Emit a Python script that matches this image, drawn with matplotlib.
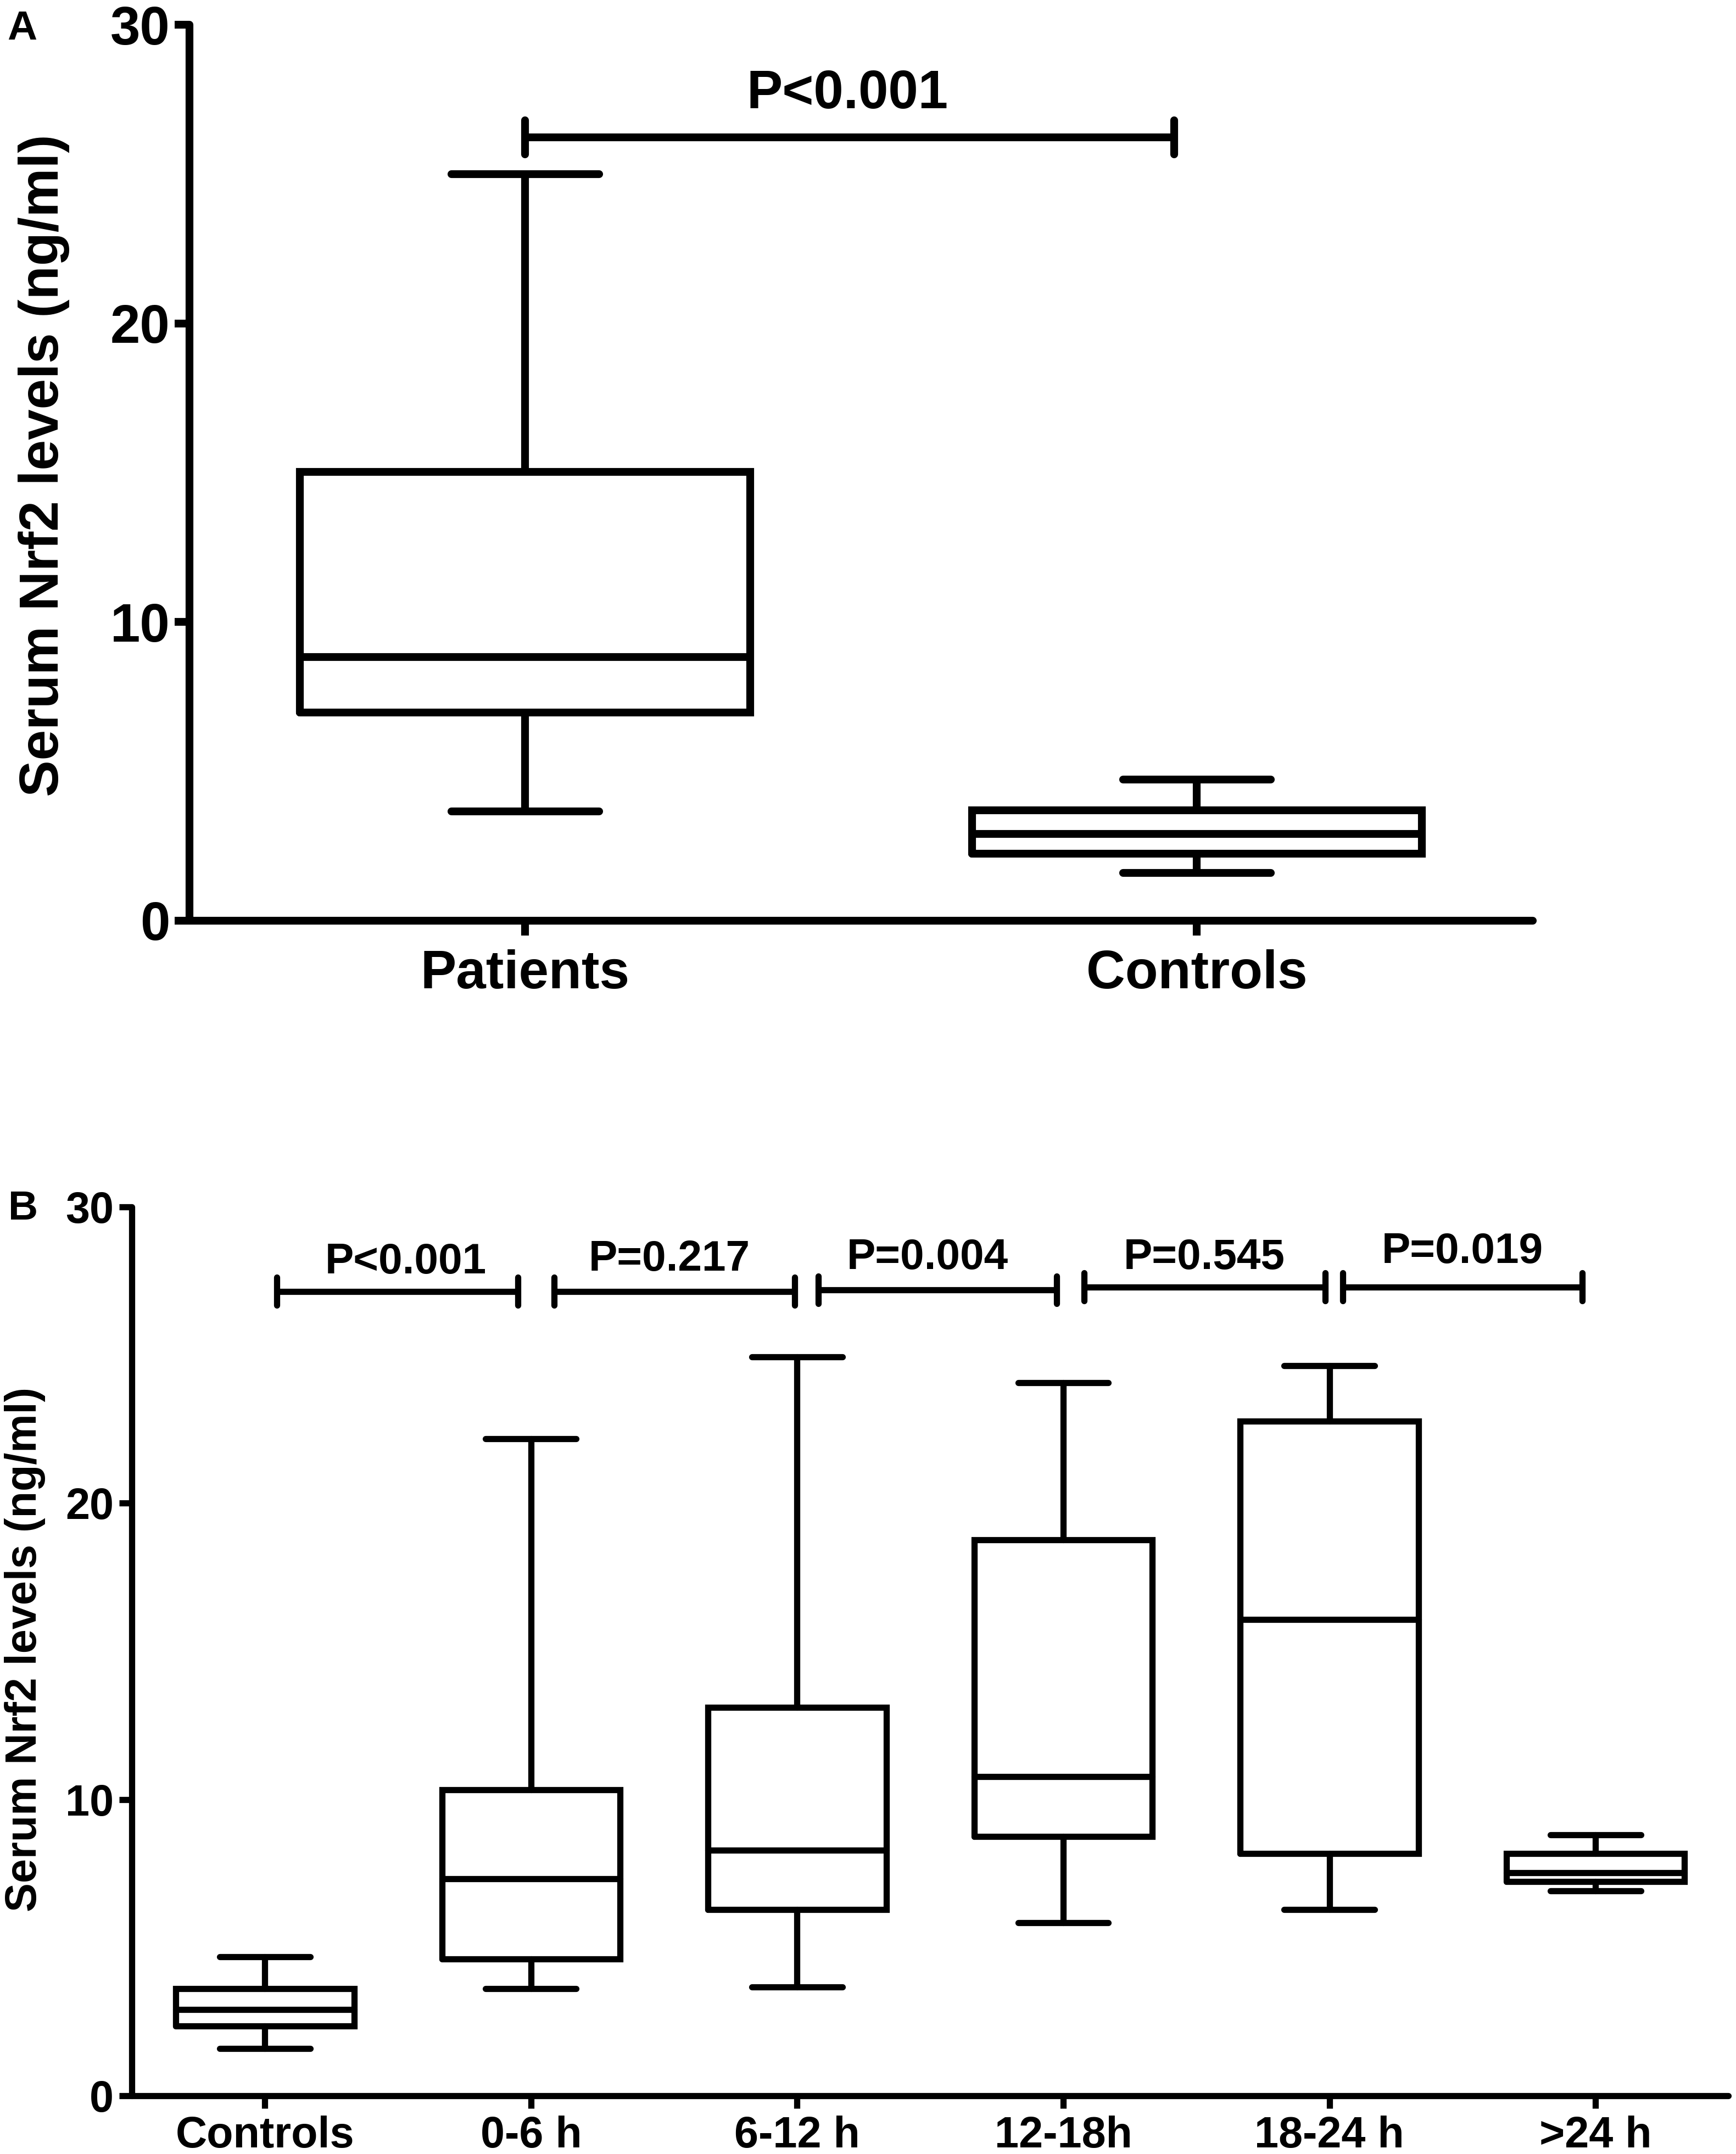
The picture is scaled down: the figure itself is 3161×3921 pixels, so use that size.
import matplotlib
matplotlib.use("Agg")
import matplotlib.pyplot as plt

plt.rcParams["font.family"] = ["Liberation Sans", "DejaVu Sans"]
plt.rcParams["font.weight"] = "bold"

# panel A: patients vs controls
groups_a = ["Patients", "Controls"]
a_whislo = [3.66, 1.59]
a_q1 = [6.97, 2.24]
a_med = [8.82, 2.90]
a_q3 = [15.02, 3.70]
a_whishi = [24.99, 4.72]

a_pvals = ["P<0.001"]
a_left = [1.0]
a_right = [1.966]
a_bracket_y = [26.23]
a_text_x = [1.48]
a_text_y = [27.2]

# panel B: controls and time since onset
groups_b = ["Controls", "0-6 h", "6-12 h", "12-18h", "18-24 h", ">24 h"]
b_whislo = [1.59, 3.61, 3.67, 5.85, 6.29, 6.92]
b_q1 = [2.35, 4.62, 6.29, 8.75, 8.18, 7.24]
b_med = [2.92, 7.32, 8.29, 10.78, 16.07, 7.53]
b_q3 = [3.61, 10.32, 13.11, 18.77, 22.76, 8.18]
b_whishi = [4.70, 22.17, 24.94, 24.06, 24.65, 8.81]

b_pvals = ["P<0.001", "P=0.217", "P=0.004", "P=0.545", "P=0.019"]
b_left = [1.045, 2.086, 3.08, 4.078, 5.05]
b_right = [1.95, 2.99, 3.975, 4.985, 5.95]
b_bracket_y = [27.15, 27.15, 27.2, 27.3, 27.3]
b_text_x = [1.53, 2.52, 3.49, 4.53, 5.5]
b_text_y = [27.75, 27.85, 27.9, 27.9, 28.1]

yticks = [0, 10, 20, 30]
ylabel = "Serum Nrf2 levels (ng/ml)"


def make_stats(labels, lo, q1, med, q3, hi):
    return [
        {"label": l, "whislo": a, "q1": b, "med": c, "q3": d, "whishi": e, "fliers": []}
        for l, a, b, c, d, e in zip(labels, lo, q1, med, q3, hi)
    ]


def draw_panel(ax, stats, lw, capw, fs_tick, fs_label, tick_len, xpad, ypad):
    n = len(stats)
    line = dict(color="black", linewidth=lw, solid_capstyle="round", solid_joinstyle="miter")
    ax.bxp(stats, positions=range(1, n + 1), widths=0.67, capwidths=capw,
           showfliers=False, boxprops=line, whiskerprops=line, capprops=line,
           medianprops=line)
    ax.set_xlim(0.5, n + 0.5)
    ax.set_ylim(0, 30)
    ax.set_yticks(yticks)
    ax.spines["top"].set_visible(False)
    ax.spines["right"].set_visible(False)
    for side in ("left", "bottom"):
        ax.spines[side].set_linewidth(lw)
        ax.spines[side].set_capstyle("round")
    ax.tick_params(axis="both", width=lw, length=tick_len, color="black")
    ax.tick_params(axis="x", labelsize=fs_tick, pad=xpad)
    ax.tick_params(axis="y", labelsize=fs_tick, pad=ypad)
    for lab in ax.get_xticklabels() + ax.get_yticklabels():
        lab.set_fontweight("bold")
    ax.set_ylabel(ylabel, fontsize=fs_label, fontweight="bold")


def draw_brackets(ax, texts, left, right, by, tx, ty, lw, cap, fs):
    for t, l, r, y, xt, yt in zip(texts, left, right, by, tx, ty):
        ax.plot([l, r], [y, y], color="black", lw=lw, solid_capstyle="butt", clip_on=False)
        for x in (l, r):
            ax.plot([x, x], [y - cap, y + cap], color="black", lw=lw,
                    solid_capstyle="round", clip_on=False)
        ax.text(xt, yt, t, ha="center", va="baseline", fontsize=fs,
                fontweight="bold", clip_on=False)


fig = plt.figure(figsize=(3162 / 300, 3921 / 300), dpi=300)

ax_a = fig.add_axes([0.109, 0.5726, 0.7737, 0.4159])
draw_panel(ax_a, make_stats(groups_a, a_whislo, a_q1, a_med, a_q3, a_whishi),
           lw=3.4, capw=0.22, fs_tick=23.5, fs_label=24, tick_len=6.5, xpad=6, ypad=2)
ax_a.yaxis.set_label_coords(-0.089, 0.508)
draw_brackets(ax_a, a_pvals, a_left, a_right, a_bracket_y, a_text_x, a_text_y,
              lw=3.4, cap=0.57, fs=23.5)

ax_b = fig.add_axes([0.0759, 0.0270, 0.9195, 0.4127])
draw_panel(ax_b, make_stats(groups_b, b_whislo, b_q1, b_med, b_q3, b_whishi),
           lw=2.7, capw=0.34, fs_tick=19, fs_label=19, tick_len=5.5, xpad=3.2, ypad=2.4)
ax_b.yaxis.set_label_coords(-0.054, 0.5025)
draw_brackets(ax_b, b_pvals, b_left, b_right, b_bracket_y, b_text_x, b_text_y,
              lw=2.7, cap=0.47, fs=18.8)

fig.text(40 / 3162, 1 - 52 / 3921, "A", ha="center", va="center", fontsize=18, fontweight="bold")
fig.text(42 / 3162, 1 - 2200 / 3921, "B", ha="center", va="center", fontsize=18, fontweight="bold")

fig.savefig("out.png", dpi=300)
